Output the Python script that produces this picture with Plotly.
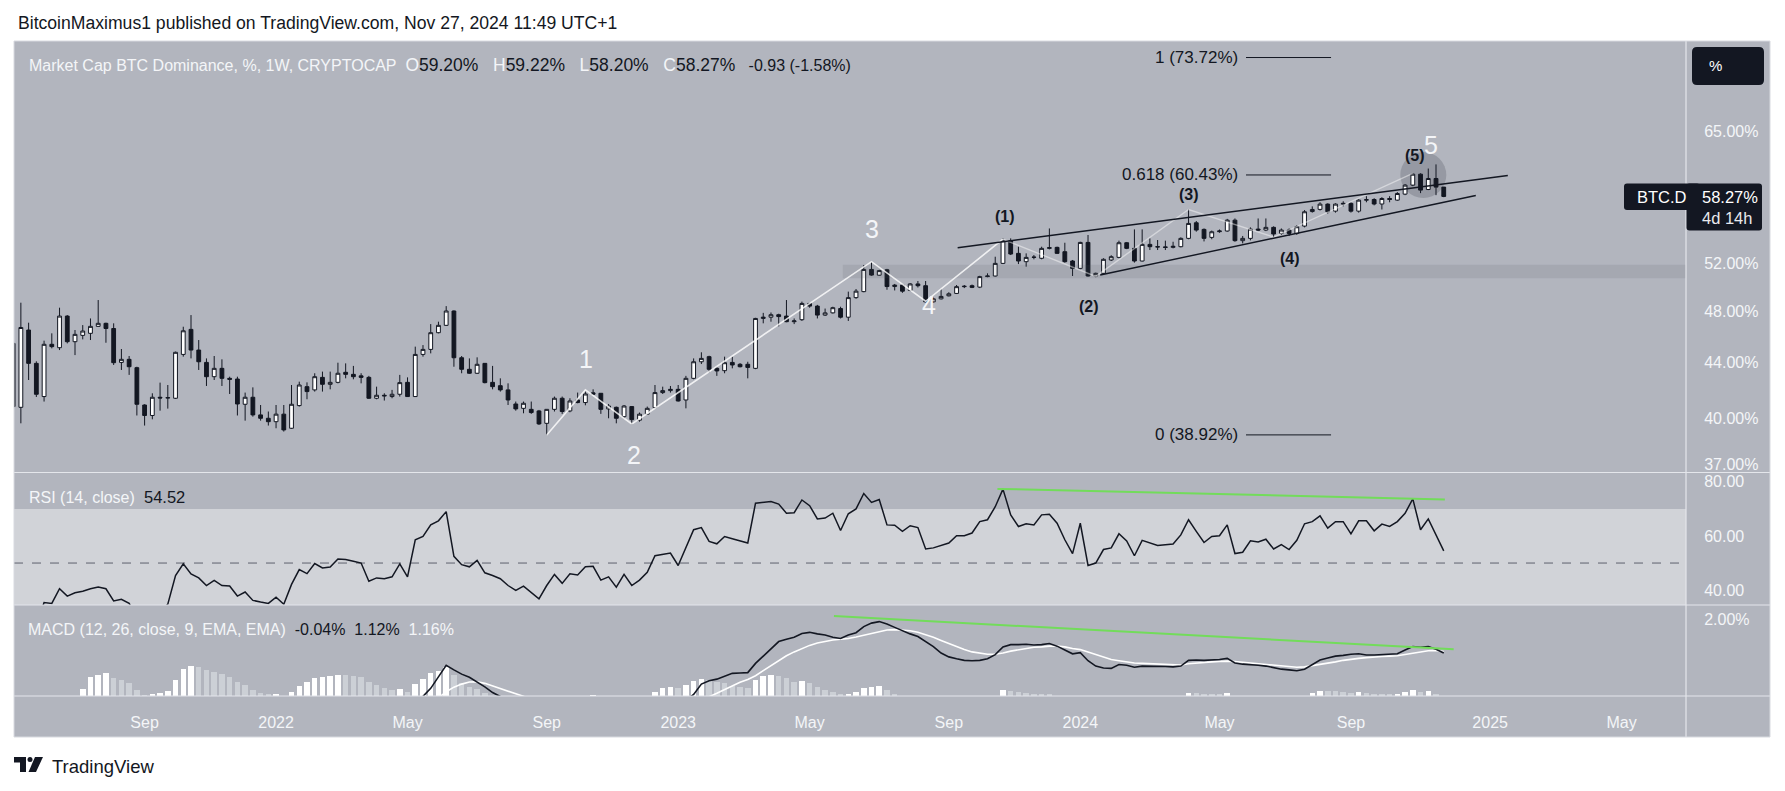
import numpy as np
import pandas as pd
import plotly.graph_objects as go

# page / pane geometry (pixels of the 1785x791 page)
W, H = 1785, 791
L, R, T, B = 14, 1686, 41, 696
SPLIT_RSI, SPLIT_MACD = 472.5, 605
FONT = "Liberation Sans, Arial, sans-serif"
BG = "#b2b5be"
DARK = "#131722"
LIGHT = "#f4f5f8"

# ---------------- data (weekly candles, CRYPTOCAP:BTC.D) ----------------
week_start = "2021-05-10"
n_weeks = 186

open_ = [45.44, 40.78, 46.48, 43.93, 41.53, 45.37, 45.11, 47.59, 45.57, 46.06,
         46.22, 46.77, 47.01, 46.60, 44.00, 44.23, 43.61, 40.94, 40.22, 41.48,
         41.43, 41.41, 44.60, 46.53, 44.93, 44.00, 42.95, 43.56, 42.83, 42.78,
         40.99, 41.48, 40.26, 40.03, 39.80, 40.31, 39.36, 40.90, 42.23, 42.00,
         42.90, 42.40, 42.54, 43.27, 43.12, 43.01, 42.90, 41.41, 41.62, 41.53,
         41.69, 42.54, 41.53, 44.60, 44.98, 46.27, 46.85, 48.00, 44.35, 43.49,
         43.20, 43.93, 42.54, 42.30, 42.00, 41.01, 40.71, 40.64, 40.53, 39.69,
         40.64, 41.41, 40.53, 41.29, 41.11, 41.79, 41.76, 40.67, 40.78, 40.14,
         40.83, 39.90, 40.31, 40.76, 41.81, 41.95, 42.04, 41.29, 42.83, 44.05,
         44.43, 43.56, 43.39, 44.00, 43.86, 43.86, 43.56, 47.40, 47.50, 47.70,
         47.59, 47.14, 47.30, 48.62, 48.40, 47.67, 47.85, 48.20, 47.50, 49.10,
         49.60, 51.50, 51.00, 51.47, 50.03, 50.15, 49.70, 50.25, 50.10, 48.75,
         49.00, 49.25, 49.45, 50.02, 50.10, 49.98, 50.88, 50.93, 52.03, 54.07,
         52.92, 52.18, 52.56, 52.48, 53.37, 53.46, 53.07, 52.24, 51.59, 53.91,
         50.93, 51.16, 52.33, 52.56, 53.88, 53.37, 52.24, 53.73, 53.52, 53.50,
         53.46, 53.52, 54.28, 55.73, 55.11, 54.37, 54.90, 54.96, 55.98, 54.07,
         54.28, 55.14, 55.05, 55.30, 54.74, 55.05, 54.74, 55.42, 56.80, 57.01,
         57.52, 56.84, 57.52, 57.59, 56.84, 57.91, 57.97, 57.53, 58.07, 57.91,
         58.50, 59.40, 60.51, 58.96, 60.07, 59.20]
high = [46.50, 48.68, 47.06, 44.08, 45.65, 46.22, 48.27, 47.67, 46.48, 46.87,
        47.40, 48.90, 47.06, 47.01, 45.01, 44.48, 43.68, 40.99, 41.76, 42.52,
        42.35, 44.81, 46.74, 47.67, 45.70, 44.30, 44.48, 44.23, 42.95, 42.95,
        41.81, 42.18, 40.94, 40.49, 40.94, 40.94, 42.35, 42.59, 42.54, 43.20,
        43.32, 43.32, 43.98, 43.93, 43.74, 43.20, 43.01, 42.23, 41.76, 42.00,
        43.08, 42.90, 45.19, 45.31, 46.95, 47.14, 48.40, 48.05, 44.48, 44.30,
        44.38, 43.95, 43.74, 42.83, 42.47, 41.18, 41.18, 41.18, 40.60, 40.66,
        41.53, 41.53, 41.41, 41.81, 41.88, 42.04, 41.78, 41.01, 40.83, 40.94,
        40.87, 40.42, 40.83, 42.35, 42.23, 42.28, 42.35, 43.01, 44.30, 44.76,
        44.50, 43.68, 44.43, 44.43, 43.95, 44.05, 47.45, 47.85, 47.88, 47.78,
        48.90, 47.40, 48.77, 48.65, 48.50, 48.20, 48.35, 48.35, 49.60, 49.82,
        51.89, 52.17, 51.47, 51.55, 50.25, 50.25, 50.32, 50.50, 50.50, 49.10,
        49.80, 49.55, 50.16, 50.16, 50.20, 50.95, 51.16, 52.62, 54.28, 54.28,
        53.52, 52.92, 52.77, 53.52, 55.20, 53.52, 53.88, 52.33, 53.97, 54.59,
        51.22, 52.48, 52.75, 54.07, 53.95, 55.11, 55.11, 54.28, 54.13, 54.07,
        53.97, 54.37, 57.01, 55.90, 55.20, 55.00, 55.10, 56.10, 56.14, 54.50,
        55.30, 56.14, 56.14, 55.40, 55.20, 55.20, 55.50, 56.94, 57.30, 57.70,
        57.60, 57.60, 57.80, 57.70, 58.00, 58.30, 58.10, 58.20, 58.30, 58.70,
        59.50, 60.60, 60.60, 61.09, 61.52, 59.22]
low = [40.20, 39.69, 42.71, 41.50, 41.18, 45.06, 44.93, 45.44, 44.55, 45.75,
       45.70, 46.74, 45.49, 43.81, 43.44, 43.08, 40.22, 39.54, 39.96, 40.55,
       40.69, 41.36, 44.43, 44.30, 43.44, 42.28, 42.71, 42.28, 41.71, 40.22,
       39.87, 40.14, 39.87, 39.54, 39.36, 39.14, 39.32, 40.83, 41.34, 41.88,
       41.88, 42.04, 42.47, 42.83, 42.76, 42.47, 41.36, 41.34, 41.25, 41.41,
       41.53, 41.50, 41.50, 44.43, 44.68, 46.22, 46.80, 43.68, 43.20, 43.15,
       43.15, 42.47, 42.04, 41.88, 40.94, 40.55, 40.37, 40.33, 39.58, 38.92,
       40.49, 40.33, 40.44, 41.06, 40.92, 41.66, 40.33, 40.03, 39.69, 40.03,
       39.58, 39.80, 40.26, 40.71, 41.71, 41.81, 41.18, 40.71, 42.76, 43.88,
       43.27, 43.01, 43.20, 43.56, 43.63, 42.83, 43.50, 47.01, 47.14, 46.77,
       47.10, 46.95, 47.20, 48.27, 47.40, 47.60, 47.80, 47.40, 47.20, 49.00,
       49.55, 50.95, 50.95, 49.76, 49.70, 49.50, 49.64, 49.95, 48.70, 48.70,
       48.95, 49.20, 49.40, 49.90, 49.90, 49.90, 50.82, 50.88, 51.97, 52.77,
       51.97, 51.74, 52.39, 52.39, 53.28, 52.86, 52.09, 50.93, 51.51, 50.88,
       50.82, 51.10, 52.24, 52.48, 53.30, 52.10, 52.20, 53.22, 53.22, 53.22,
       53.37, 53.46, 54.20, 54.90, 54.00, 54.20, 54.80, 54.90, 53.97, 53.82,
       54.10, 54.95, 54.95, 54.40, 54.60, 54.50, 54.60, 55.30, 56.70, 56.90,
       56.60, 56.70, 57.30, 56.70, 56.70, 57.70, 57.40, 57.00, 57.70, 57.85,
       58.40, 59.30, 58.60, 58.90, 58.40, 58.20]
close = [40.83, 46.68, 43.93, 41.69, 45.37, 45.19, 47.59, 45.57, 46.14, 46.40,
         46.77, 47.01, 46.60, 43.98, 44.23, 43.68, 40.99, 40.22, 41.48, 41.43,
         41.45, 44.76, 46.42, 44.93, 44.05, 42.95, 43.56, 42.83, 42.76, 41.01,
         41.48, 40.26, 40.03, 39.80, 40.31, 39.25, 40.99, 42.35, 41.88, 42.95,
         42.40, 42.54, 43.20, 43.12, 42.95, 42.90, 41.41, 41.62, 41.58, 41.69,
         42.52, 41.53, 44.60, 44.98, 46.27, 46.85, 48.00, 44.35, 43.49, 43.20,
         43.86, 42.52, 42.23, 42.00, 41.29, 40.67, 41.06, 40.42, 39.65, 40.64,
         41.41, 40.49, 41.22, 41.11, 41.71, 41.69, 40.64, 40.87, 40.03, 40.87,
         39.94, 40.31, 40.71, 41.81, 41.95, 42.04, 41.22, 42.83, 44.05, 44.30,
         43.49, 43.37, 43.98, 43.81, 43.68, 43.63, 47.40, 47.50, 47.70, 47.55,
         47.14, 47.20, 48.62, 48.40, 47.67, 47.85, 48.27, 47.50, 49.10, 49.64,
         51.50, 51.01, 51.40, 50.03, 50.15, 49.64, 50.25, 50.10, 48.75, 49.00,
         49.20, 49.42, 50.02, 50.05, 49.96, 50.88, 50.93, 52.03, 54.07, 52.86,
         52.24, 52.56, 52.58, 53.37, 53.43, 52.92, 52.18, 51.59, 53.91, 50.93,
         51.16, 52.39, 52.62, 53.88, 53.37, 52.24, 53.73, 53.52, 53.50, 53.46,
         53.55, 54.28, 55.67, 55.05, 54.28, 54.89, 54.96, 55.98, 54.07, 54.28,
         55.14, 55.05, 55.30, 54.68, 55.05, 54.74, 55.36, 56.78, 57.00, 57.52,
         56.78, 57.52, 57.59, 56.84, 57.91, 57.95, 57.53, 58.07, 57.98, 58.56,
         59.40, 60.51, 58.90, 60.07, 59.20, 58.27]

rsi = [25, 32, 29, 27, 35.4, 35.1, 40.5, 37.8, 39.0, 39.6,
       40.5, 41.1, 40.5, 36.0, 36.6, 35.1, 30.0, 28.5, 31.5, 32.0,
       34.8, 45.4, 49.7, 46.0, 44.5, 41.7, 43.6, 41.7, 41.5, 37.8,
       39.3, 36.2, 35.6, 35.1, 37.4, 34.8, 42.1, 47.6, 46.1, 49.8,
       48.2, 48.5, 51.5, 51.3, 50.7, 50.0, 43.3, 44.5, 44.2, 44.9,
       49.7, 44.9, 58.6, 59.8, 64.1, 65.6, 69.0, 52.5, 49.4, 48.6,
       51.0, 46.4, 45.4, 44.2, 41.7, 39.9, 41.5, 39.3, 36.8, 41.7,
       45.8, 42.5, 46.0, 45.6, 48.6, 48.8, 43.7, 44.9, 41.1, 45.8,
       41.7, 43.7, 46.6, 52.7, 53.3, 53.7, 49.1, 55.9, 62.3, 63.1,
       58.0, 57.1, 59.8, 59.0, 58.2, 57.4, 72.1, 72.4, 72.7, 71.8,
       68.4, 68.6, 73.3, 71.2, 66.3, 66.6, 68.4, 62.0, 68.2, 70.0,
       75.7, 72.4, 73.5, 64.1, 64.0, 61.7, 63.8, 63.1, 55.2, 55.6,
       56.4, 57.4, 60.1, 60.1, 61.1, 65.3, 66.0, 70.8, 77.3, 67.8,
       63.5, 64.5, 64.1, 67.8, 68.0, 64.7, 58.6, 53.5, 64.7, 49.1,
       50.0, 55.0, 55.6, 60.8, 58.2, 52.7, 58.4, 57.4, 56.5, 56.8,
       57.0, 60.4, 66.0, 61.7, 57.6, 59.8, 60.1, 64.1, 53.5, 54.0,
       58.2, 57.8, 58.8, 55.2, 56.8, 55.0, 58.4, 64.5, 65.3, 67.4,
       62.9, 65.3, 65.3, 60.8, 65.6, 65.6, 61.9, 64.4, 63.5, 65.3,
       68.4, 73.7, 62.3, 66.3, 60.4, 54.52]

macd = [-1.80, -1.70, -1.68, -1.70, -1.55, -1.45, -1.28, -1.22, -1.12, -1.02,
        -0.90, -0.80, -0.70, -0.72, -0.70, -0.72, -0.88, -1.00, -0.98, -0.96,
        -0.90, -0.70, -0.45, -0.35, -0.30, -0.30, -0.28, -0.28, -0.30, -0.38,
        -0.42, -0.50, -0.56, -0.62, -0.62, -0.68, -0.60, -0.48, -0.40, -0.32,
        -0.26, -0.22, -0.17, -0.14, -0.13, -0.13, -0.20, -0.24, -0.28, -0.30,
        -0.25, -0.28, -0.10, -0.01, 0.20, 0.49, 0.80, 0.68, 0.57, 0.49,
        0.37, 0.24, 0.09, -0.02, -0.12, -0.22, -0.30, -0.38, -0.48, -0.52,
        -0.50, -0.52, -0.50, -0.50, -0.46, -0.44, -0.48, -0.50, -0.55, -0.55,
        -0.60, -0.60, -0.56, -0.46, -0.38, -0.30, -0.26, -0.12, 0.04, 0.31,
        0.40, 0.44, 0.52, 0.59, 0.60, 0.61, 0.85, 1.04, 1.24, 1.42,
        1.48, 1.53, 1.63, 1.66, 1.62, 1.59, 1.53, 1.50, 1.59, 1.65,
        1.81, 1.90, 1.94, 1.88, 1.79, 1.70, 1.62, 1.55, 1.42, 1.29,
        1.12, 1.02, 0.97, 0.93, 0.92, 0.93, 0.97, 1.08, 1.28, 1.34,
        1.34, 1.35, 1.33, 1.34, 1.37, 1.30, 1.20, 1.10, 1.13, 0.92,
        0.78, 0.73, 0.72, 0.82, 0.80, 0.75, 0.78, 0.78, 0.77, 0.77,
        0.76, 0.78, 0.93, 0.94, 0.93, 0.94, 0.95, 0.98, 0.86, 0.83,
        0.82, 0.80, 0.78, 0.74, 0.70, 0.68, 0.66, 0.70, 0.83, 0.94,
        0.99, 1.04, 1.06, 1.09, 1.10, 1.07, 1.07, 1.08, 1.09, 1.10,
        1.20, 1.29, 1.27, 1.29, 1.22, 1.12]
signal = [-1.90, -1.85, -1.80, -1.76, -1.72, -1.66, -1.60, -1.52, -1.45, -1.38,
          -1.30, -1.22, -1.14, -1.08, -1.02, -0.98, -0.96, -0.98, -0.98, -0.98,
          -0.97, -0.92, -0.85, -0.78, -0.72, -0.66, -0.60, -0.55, -0.50, -0.48,
          -0.46, -0.47, -0.49, -0.51, -0.54, -0.56, -0.57, -0.56, -0.54, -0.50,
          -0.46, -0.42, -0.38, -0.34, -0.31, -0.29, -0.28, -0.28, -0.28, -0.29,
          -0.29, -0.29, -0.25, -0.20, -0.14, -0.05, 0.11, 0.23, 0.31, 0.365,
          0.37, 0.33, 0.26, 0.17, 0.10, 0.04, -0.02, -0.09, -0.16, -0.23,
          -0.28, -0.33, -0.36, -0.39, -0.41, -0.42, -0.44, -0.45, -0.47, -0.49,
          -0.51, -0.53, -0.54, -0.52, -0.49, -0.45, -0.41, -0.35, -0.28, -0.16,
          -0.02, 0.07, 0.17, 0.27, 0.36, 0.43, 0.53, 0.66, 0.79, 0.93,
          1.05, 1.15, 1.24, 1.32, 1.38, 1.43, 1.46, 1.48, 1.50, 1.54,
          1.59, 1.64, 1.68, 1.72, 1.73, 1.72, 1.70, 1.66, 1.60, 1.53,
          1.45, 1.37, 1.28, 1.21, 1.15, 1.11, 1.09, 1.09, 1.12, 1.17,
          1.21, 1.24, 1.27, 1.28, 1.30, 1.30, 1.28, 1.24, 1.21, 1.15,
          1.08, 1.01, 0.95, 0.92, 0.89, 0.86, 0.85, 0.84, 0.83, 0.82,
          0.81, 0.81, 0.84, 0.86, 0.88, 0.89, 0.90, 0.91, 0.90, 0.88,
          0.87, 0.85, 0.83, 0.81, 0.79, 0.77, 0.75, 0.76, 0.79, 0.82,
          0.86, 0.89, 0.93, 0.96, 0.98, 1.00, 1.02, 1.03, 1.04, 1.05,
          1.08, 1.12, 1.15, 1.18, 1.19, 1.16]
hist = [-0.15, -0.12, -0.10, -0.09, -0.06, -0.04, -0.03, -0.02, -0.01, 0.174,
        0.487, 0.548, 0.609, 0.461, 0.417, 0.348, 0.157, 0.026, 0.043, 0.070,
        0.130, 0.417, 0.695, 0.782, 0.747, 0.678, 0.634, 0.574, 0.487, 0.374,
        0.287, 0.157, 0.087, 0.043, 0.050, -0.02, 0.104, 0.261, 0.374, 0.461,
        0.504, 0.522, 0.548, 0.545, 0.522, 0.487, 0.374, 0.287, 0.200, 0.157,
        0.174, 0.113, 0.313, 0.435, 0.591, 0.661, 0.765, 0.548, 0.330, 0.226,
        0.174, 0.070, -0.05, -0.12, -0.20, -0.25, -0.28, -0.29, -0.30, -0.28,
        -0.22, -0.19, -0.14, -0.11, -0.05, 0.017, -0.04, -0.05, -0.08, -0.06,
        -0.09, -0.07, -0.02, 0.113, 0.200, 0.226, 0.200, 0.287, 0.400, 0.435,
        0.417, 0.374, 0.330, 0.261, 0.243, 0.220, 0.417, 0.522, 0.548, 0.522,
        0.461, 0.374, 0.400, 0.330, 0.226, 0.157, 0.113, 0.052, 0.060, 0.113,
        0.200, 0.243, 0.261, 0.150, 0.050, -0.02, -0.08, -0.11, -0.18, -0.24,
        -0.33, -0.35, -0.31, -0.28, -0.23, -0.18, -0.12, -0.01, 0.157, 0.139,
        0.113, 0.087, 0.060, 0.060, 0.043, -0.01, -0.08, -0.14, -0.08, -0.23,
        -0.30, -0.28, -0.23, -0.10, -0.09, -0.11, -0.07, -0.06, -0.06, -0.05,
        -0.05, -0.03, 0.087, 0.070, 0.052, 0.043, 0.043, 0.087, -0.04, -0.05,
        -0.05, -0.05, -0.05, -0.07, -0.09, -0.09, -0.09, -0.01, 0.070, 0.130,
        0.125, 0.120, 0.113, 0.087, 0.113, 0.070, 0.043, 0.043, 0.035, 0.043,
        0.113, 0.157, 0.113, 0.139, 0.043, -0.04]

price_ticks = [37, 40, 44, 48, 52, 65]
rsi_ticks = [40, 60, 80]
macd_ticks = [2]
time_ticks = ["2021-09-06", "2022-01-03", "2022-05-02", "2022-09-05", "2023-01-02",
              "2023-05-01", "2023-09-04", "2024-01-01", "2024-05-06", "2024-09-02",
              "2025-01-06", "2025-05-05"]
time_labels = ["Sep", "2022", "May", "Sep", "2023", "May", "Sep", "2024", "May",
               "Sep", "2025", "May"]

fib_ratio = ["1", "0.618", "0"]
fib_value = [73.72, 60.43, 38.92]

for arr in (open_, high, low, close, rsi, macd, signal, hist):
    assert len(arr) == n_weeks, len(arr)

dates = pd.date_range(week_start, periods=n_weeks, freq="7D")

# ---------------- helpers ----------------
def px(x):
    return (x - L) / (R - L)


def py(y):
    return (B - y) / (B - T)


REF_DAY, REF_X, PX_PER_DAY = pd.Timestamp("2021-09-06"), 144.6, 7.733 / 7


def xdate(x):
    return REF_DAY + pd.Timedelta(days=(x - REF_X) / PX_PER_DAY)


def rrect(x0, y0, x1, y1, r):
    pts = [("M", x0 + r, y0), ("L", x1 - r, y0), ("Q", x1, y0, x1, y0 + r),
           ("L", x1, y1 - r), ("Q", x1, y1, x1 - r, y1), ("L", x0 + r, y1),
           ("Q", x0, y1, x0, y1 - r), ("L", x0, y0 + r), ("Q", x0, y0, x0 + r, y0)]
    out = []
    for p in pts:
        if p[0] == "Q":
            out.append(f"Q{px(p[1]):.5f},{py(p[2]):.5f} {px(p[3]):.5f},{py(p[4]):.5f}")
        else:
            out.append(f"{p[0]}{px(p[1]):.5f},{py(p[2]):.5f}")
    return " ".join(out) + " Z"


def poly(points):
    return "M" + " L".join(f"{px(x):.5f},{py(y):.5f}" for x, y in points) + " Z"


fig = go.Figure()

# ---------------- main pane ----------------
zone_lo, zone_hi = 50.73, 51.9
fig.add_trace(go.Scatter(
    x=["2023-05-31", "2025-08-01", "2025-08-01", "2023-05-31"],
    y=[zone_lo, zone_lo, zone_hi, zone_hi], fill="toself", mode="lines",
    line=dict(width=0), fillcolor="rgba(80,83,95,0.13)", hoverinfo="skip",
    xaxis="x", yaxis="y"))

# wave count zigzags
major = [69, 74, 80, 111, 118, 128]
major_y = [38.92, 42.0, 39.65, 52.18, 48.8, 54.2]
minor = [128, 140, 152, 163, 181]
minor_y = [54.2, 50.9, 57.0, 54.4, 60.6]
fig.add_trace(go.Scatter(x=dates[major], y=major_y, mode="lines",
                         line=dict(color="rgba(255,255,255,0.8)", width=1.6),
                         hoverinfo="skip", xaxis="x", yaxis="y"))
fig.add_trace(go.Scatter(x=dates[minor], y=minor_y, mode="lines",
                         line=dict(color="rgba(255,255,255,0.45)", width=1.4),
                         hoverinfo="skip", xaxis="x", yaxis="y"))

fig.add_trace(go.Candlestick(
    x=dates, open=open_, high=high, low=low, close=close,
    increasing=dict(fillcolor="#ffffff", line=dict(color=DARK, width=1)),
    decreasing=dict(fillcolor=DARK, line=dict(color=DARK, width=1)),
    whiskerwidth=0, hoverinfo="skip", xaxis="x", yaxis="y"))

# rising wedge
for xs, ys in ((["2023-09-12", "2025-01-22"], [53.43, 60.37]),
               (["2024-01-19", "2024-12-24"], [51.02, 58.37])):
    fig.add_trace(go.Scatter(x=xs, y=ys, mode="lines", line=dict(color=DARK, width=1.4),
                             hoverinfo="skip", xaxis="x", yaxis="y"))

# fib levels
for v in fib_value:
    fig.add_trace(go.Scatter(x=["2024-05-30", "2024-08-15"], y=[v, v], mode="lines",
                             line=dict(color=DARK, width=1), hoverinfo="skip",
                             xaxis="x", yaxis="y"))

# ---------------- RSI pane ----------------
fig.add_trace(go.Scatter(x=dates, y=rsi, mode="lines", line=dict(color=DARK, width=1.5),
                         hoverinfo="skip", xaxis="x", yaxis="y2"))
fig.add_trace(go.Scatter(x=["2023-10-18", "2024-11-26"], y=[77.4, 73.5], mode="lines",
                         line=dict(color="#72dc5a", width=2), hoverinfo="skip",
                         xaxis="x", yaxis="y2"))

# ---------------- MACD pane ----------------
hist_col = []
for i, h in enumerate(hist):
    prev = hist[i - 1] if i else h
    hist_col.append("#ffffff" if h > prev else "#ccd0d6")
fig.add_trace(go.Bar(x=dates, y=hist, marker=dict(color=hist_col, line=dict(width=0)),
                     width=5 * 86400000, hoverinfo="skip", xaxis="x", yaxis="y3"))
fig.add_trace(go.Scatter(x=dates, y=signal, mode="lines", line=dict(color="#ffffff", width=1.6),
                         hoverinfo="skip", xaxis="x", yaxis="y3"))
fig.add_trace(go.Scatter(x=dates, y=macd, mode="lines", line=dict(color=DARK, width=1.6),
                         hoverinfo="skip", xaxis="x", yaxis="y3"))
fig.add_trace(go.Scatter(x=["2023-05-23", "2024-12-04"], y=[2.086, 1.218], mode="lines",
                         line=dict(color="#72dc5a", width=2), hoverinfo="skip",
                         xaxis="x", yaxis="y3"))

# ---------------- shapes ----------------
shapes = [
    dict(type="rect", xref="paper", yref="paper", x0=px(L), x1=px(1770), y0=py(737), y1=py(T),
         fillcolor=BG, line=dict(width=0), layer="below"),
    dict(type="rect", xref="paper", yref="y2", x0=0, x1=1, y0=34.5, y1=70,
         fillcolor="#d1d3d8", line=dict(width=0), layer="below"),
    dict(type="line", xref="paper", yref="y2", x0=0, x1=1, y0=50, y1=50,
         line=dict(color="#5f626d", width=1, dash="dash"), layer="below"),
    dict(type="circle", xref="paper", yref="paper", x0=px(1400.3), x1=px(1446.3),
         y0=py(198), y1=py(152), fillcolor="rgba(80,83,95,0.28)", line=dict(width=0),
         layer="below"),
]
sep = "#e4e6eb"
for yy in (SPLIT_RSI, SPLIT_MACD, B):
    shapes.append(dict(type="line", xref="paper", yref="paper", x0=px(L), x1=px(1770),
                       y0=py(yy), y1=py(yy), line=dict(color=sep, width=1.2)))
shapes.append(dict(type="line", xref="paper", yref="paper", x0=px(R), x1=px(R),
                   y0=py(T), y1=py(737), line=dict(color=sep, width=1.2)))
shapes.append(dict(type="rect", xref="paper", yref="paper", x0=px(L), x1=px(1770),
                   y0=py(737), y1=py(T), line=dict(color="#d8dae0", width=1)))
# labels on the price scale
shapes.append(dict(type="path", xref="paper", yref="paper",
                   path=rrect(1624, 183.5, 1700, 210, 3), fillcolor=DARK, line=dict(width=0)))
shapes.append(dict(type="path", xref="paper", yref="paper",
                   path=rrect(1686.5, 183.5, 1762, 230.5, 3), fillcolor=DARK, line=dict(width=0)))
shapes.append(dict(type="path", xref="paper", yref="paper",
                   path=rrect(1692, 47, 1764, 85, 5), fillcolor=DARK, line=dict(width=0)))
# TradingView logo mark
shapes.append(dict(type="path", xref="paper", yref="paper", fillcolor=DARK, line=dict(width=0),
                   path=poly([(14, 757), (26, 757), (26, 772), (20, 772), (20, 762.5), (14, 762.5)])))
shapes.append(dict(type="circle", xref="paper", yref="paper", fillcolor=DARK, line=dict(width=0),
                   x0=px(27.5), x1=px(32.5), y0=py(762), y1=py(757)))
shapes.append(dict(type="path", xref="paper", yref="paper", fillcolor=DARK, line=dict(width=0),
                   path=poly([(35, 757), (43, 757), (36, 772), (28.5, 772)])))

# ---------------- annotations ----------------
ann = []


def note(x, y, text, size=16, color=DARK, xanchor="left", **kw):
    ann.append(dict(xref="paper", yref="paper", x=px(x), y=py(y), text=text,
                    showarrow=False, xanchor=xanchor, yanchor="middle",
                    font=dict(family=FONT, size=size, color=color), **kw))


def span(t, c, size=None):
    st = f"color:{c}" + (f";font-size:{size}px" if size else "")
    return f"<span style='{st}'>{t}</span>"


sp = "\u00a0" * 3
note(16, 23, span("BitcoinMaximus1 published on TradingView.com, Nov 27, 2024 11:49 UTC+1",
                  DARK, 17.6), size=17.6)
note(27, 65, span("Market Cap BTC Dominance, %, 1W, CRYPTOCAP\u00a0\u00a0", LIGHT)
     + span("O", LIGHT, 17.5) + span("59.20%", DARK, 17.5)
     + span(sp + "H", LIGHT, 17.5) + span("59.22%", DARK, 17.5)
     + span(sp + "L", LIGHT, 17.5) + span("58.20%", DARK, 17.5)
     + span(sp + "C", LIGHT, 17.5) + span("58.27%", DARK, 17.5)
     + span(sp + "-0.93 (-1.58%)", DARK, 16))
note(27, 496.5, span("RSI (14, close)", LIGHT) + span("\u00a0\u00a054.52", DARK, 16.5))
note(26, 629, span("MACD (12, 26, close, 9, EMA, EMA)", LIGHT)
     + span("\u00a0\u00a0-0.04%\u00a0\u00a01.12%", DARK, 16)
     + span("\u00a0\u00a01.16%", LIGHT, 16))

# wave labels
for x, y, t in ((586, 358.5, "1"), (634, 455, "2"), (872, 229, "3"), (929, 305, "4"),
                (1431, 145, "5")):
    note(x, y, t, size=25, color=LIGHT, xanchor="center")
for x, y, t in ((1005, 216, "(1)"), (1089, 306, "(2)"), (1189, 194, "(3)"), (1290, 258, "(4)"),
                (1415, 156, "(5)")):
    note(x, y, f"<b>{t}</b>", size=16, color=DARK, xanchor="center")

# fib level texts
for r, v in zip(fib_ratio, fib_value):
    ann.append(dict(xref="x", yref="y", x="2024-05-30", y=float(np.log10(v)),
                    text=f"{r} ({v:.2f}%)", showarrow=False, xanchor="right", yanchor="middle",
                    xshift=-6, font=dict(family=FONT, size=17, color=DARK)))

# price-scale labels
note(1662, 197, "BTC.D", size=16.5, color="#ffffff", xanchor="center")
note(1700, 197, "58.27%", size=16.5, color="#ffffff")
note(1700, 218, "4d 14h", size=16.5, color="#e8e9ed")
note(1707, 66, "%", size=15, color="#ffffff")
note(50, 766, "TradingView", size=18.5, color=DARK)

# ---------------- layout ----------------
tickfont = dict(family=FONT, size=16, color=LIGHT)
yax = dict(side="right", showgrid=False, zeroline=False, showline=False, ticks="outside",
           ticklen=14, tickcolor="rgba(0,0,0,0)", tickfont=tickfont, anchor="x", fixedrange=True)

fig.update_layout(
    width=W, height=H, autosize=False,
    margin=dict(l=L, r=W - R, t=T, b=H - B, pad=0),
    paper_bgcolor="#ffffff", plot_bgcolor="rgba(0,0,0,0)",
    showlegend=False, hovermode=False, bargap=0,
    shapes=shapes, annotations=ann,
    xaxis=dict(type="date", domain=[0, 1], anchor="y3",
               range=[xdate(L), xdate(R)], rangeslider=dict(visible=False),
               tickvals=time_ticks, ticktext=time_labels, tickfont=tickfont,
               ticks="outside", ticklen=12, tickcolor="rgba(0,0,0,0)",
               showgrid=False, zeroline=False, showline=False),
    yaxis=dict(yax, type="log", domain=[py(SPLIT_RSI), 1],
               range=[np.log10(36.52), np.log10(75.81)],
               tickvals=price_ticks, ticktext=[f"{v:.2f}%" for v in price_ticks]),
    yaxis2=dict(yax, domain=[py(SPLIT_MACD), py(SPLIT_RSI)], range=[34.5, 83.45],
                tickvals=rsi_ticks, ticktext=[f"{v:.2f}" for v in rsi_ticks]),
    yaxis3=dict(yax, domain=[0, py(SPLIT_MACD)], range=[0, 2.373],
                tickvals=macd_ticks, ticktext=[f"{v:.2f}%" for v in macd_ticks]),
)

fig.write_html("out.html", config={"displayModeBar": False},
               post_script="document.body.style.margin='0';document.body.style.overflow='hidden';")
